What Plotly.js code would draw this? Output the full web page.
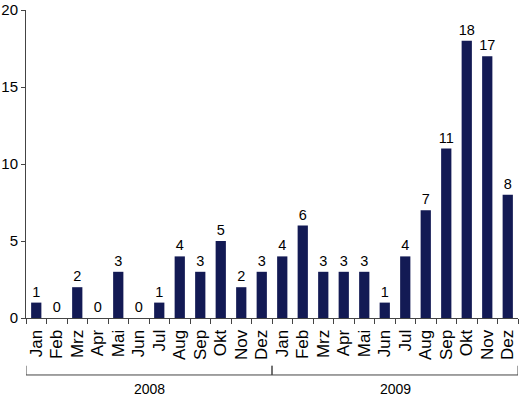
<html>
<head>
<script src="https://cdn.plot.ly/plotly-3.0.1.min.js"></script>
</head>
<body style="margin:0">
<div id="chart" style="width:522px;height:400px"></div>
<script>
  // monthly counts, Jan 2008 .. Dez 2009
  const months = ["Jan","Feb","Mrz","Apr","Mai","Jun","Jul","Aug","Sep","Okt","Nov","Dez"];
  const years = ["2008", "2009"];
  const counts = [1,0,2,0,3,0,1,4,3,5,2,3,
                  4,6,3,3,3,1,4,7,11,18,17,8];

  let idx = counts.map((v,i) => i);
  let labels = idx.map(i => months[i % 12]);
  let bounds = [-0.5].concat(idx.map(i => i + 0.5));

  let data = [{
    x: idx,
    y: counts,
    type: 'bar',
    width: 0.5,
    marker: {color: '#131a54'},
    text: counts.map(String),
    textposition: 'outside',
    constraintext: 'none',
    textfont: {size: 14.5, color: '#000'},
    cliponaxis: false,
    hoverinfo: 'none'
  }];

  // year brackets under the month labels
  let shapes = [];
  let annotations = [];
  years.forEach((yr, k) => {
    let x0 = -0.5 + 12*k, x1 = x0 + 12;
    shapes.push({type:'line', xref:'x', yref:'paper', x0:x0, x1:x1, y0:-0.185, y1:-0.185, line:{color:'#444', width:1}});
    shapes.push({type:'line', xref:'x', yref:'paper', x0:x0, x1:x0, y0:-0.185, y1:-0.155, line:{color:'#444', width:1}});
    shapes.push({type:'line', xref:'x', yref:'paper', x0:x1, x1:x1, y0:-0.185, y1:-0.155, line:{color:'#444', width:1}});
    annotations.push({text: yr, xref:'x', yref:'paper', x:(x0+x1)/2, y:-0.23, yanchor:'middle', showarrow:false, font:{size:14, color:'#000'}});
  });

  let layout = {
    width: 522, height: 400,
    margin: {l: 26, r: 4, t: 10, b: 82},
    font: {family: 'Liberation Sans, Arial, sans-serif', size: 15, color: '#000'},
    paper_bgcolor: '#fff', plot_bgcolor: '#fff',
    showlegend: false,
    bargap: 0.5,
    xaxis: {
      range: [-0.5, 23.5],
      tickmode: 'array', tickvals: idx, ticktext: labels,
      tickangle: -90, ticks: '', showgrid: false, zeroline: false,
      tickfont: {size: 17}, ticklabelstandoff: 4,
      showline: true, linecolor: '#444', linewidth: 1,
      minor: {tickmode: 'array', tickvals: bounds, ticks: 'outside', ticklen: 5, tickcolor: '#444', showgrid: false},
      fixedrange: true
    },
    yaxis: {
      range: [0, 20], tickvals: [0,5,10,15,20],
      ticks: 'outside', ticklen: 4, tickcolor: '#444',
      showgrid: false, zeroline: false,
      showline: true, linecolor: '#444', linewidth: 1,
      fixedrange: true
    },
    shapes: shapes,
    annotations: annotations
  };

  Plotly.newPlot("chart", data, layout, {displayModeBar: false, staticPlot: true});
</script>
</body>
</html>
